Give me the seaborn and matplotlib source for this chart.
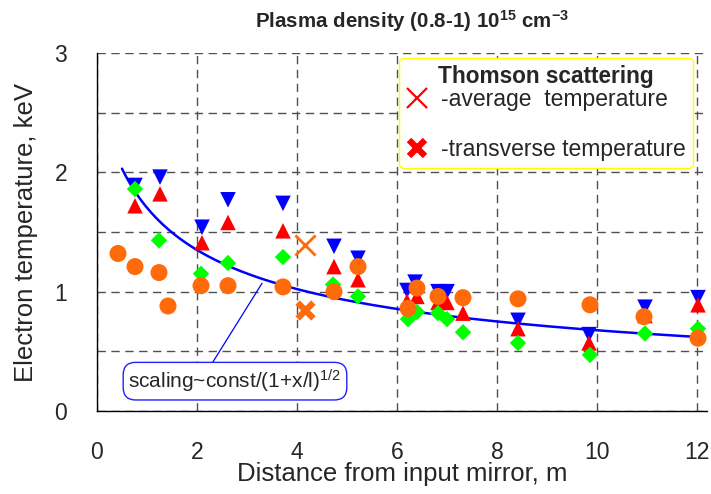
import numpy as np
import pandas as pd
import matplotlib
matplotlib.use("Agg")
import matplotlib.pyplot as plt
import seaborn as sns
from matplotlib.lines import Line2D
from matplotlib.ticker import MultipleLocator

# ---- data ----
blue_x = [0.76, 1.26, 2.10, 2.62, 3.72, 4.74, 5.22, 6.20, 6.36, 6.82, 7.00, 8.42, 9.84, 10.96, 12.02]
blue_y = [1.89, 1.96, 1.54, 1.77, 1.74, 1.38, 1.28, 1.01, 1.08, 1.00, 1.00, 0.76, 0.64, 0.87, 0.95]
red_x = [0.76, 1.26, 2.10, 2.62, 3.72, 4.74, 5.22, 6.20, 6.40, 6.82, 7.00, 7.32, 8.42, 9.84, 10.96, 12.02]
red_y = [1.72, 1.82, 1.41, 1.58, 1.51, 1.21, 1.10, 0.92, 0.96, 0.91, 0.91, 0.82, 0.69, 0.57, 0.80, 0.89]
green_x = [0.76, 1.24, 2.08, 2.62, 3.72, 4.72, 5.22, 6.22, 6.40, 6.82, 7.00, 7.32, 8.42, 9.86, 10.96, 12.02]
green_y = [1.86, 1.43, 1.15, 1.24, 1.29, 1.06, 0.96, 0.77, 0.83, 0.82, 0.77, 0.66, 0.57, 0.47, 0.65, 0.69]
orange_x = [0.42, 0.76, 1.24, 1.42, 2.08, 2.62, 3.72, 4.74, 5.22, 6.22, 6.40, 6.82, 7.32, 8.42, 9.86, 10.94, 12.02]
orange_y = [1.32, 1.21, 1.16, 0.88, 1.05, 1.05, 1.04, 1.00, 1.21, 0.86, 1.03, 0.96, 0.95, 0.94, 0.89, 0.79, 0.61]
avg_x = [4.16]
avg_y = [1.39]
trans_x = [4.16]
trans_y = [0.85]

# scaling law const/(1+x/l)^(1/2), as stated on the chart
scaling_const = 2.67
scaling_l = 0.686
curve_x = np.linspace(0.5, 12.0, 200)
curve_y = scaling_const / np.sqrt(1 + curve_x / scaling_l)

x_ticks = [0, 2, 4, 6, 8, 10, 12]
y_ticks = [0, 1, 2, 3]

# ---- style ----
sns.set_style("white")
plt.rcParams["font.family"] = ["Liberation Sans", "DejaVu Sans"]
plt.rcParams["mathtext.fontset"] = "custom"
plt.rcParams["mathtext.rm"] = "Liberation Sans"
plt.rcParams["mathtext.it"] = "Liberation Sans:italic"
plt.rcParams["mathtext.bf"] = "Liberation Sans:bold"

fig = plt.figure(figsize=(7.11, 4.94), dpi=100)
ax = fig.add_axes([97 / 711, 1 - 411 / 494, 610 / 711, 358 / 494])

BLUE = "#0000ff"
RED = "#ff0000"
GREEN = "#00ff00"
ORANGE = "#ff6a0a"

sns.lineplot(x=curve_x, y=curve_y, ax=ax, color=BLUE, linewidth=1.8, zorder=3)

sns.scatterplot(x=blue_x, y=blue_y, ax=ax, marker="v", s=125, color=BLUE,
                edgecolor="none", zorder=4)
sns.scatterplot(x=red_x, y=red_y, ax=ax, marker="^", s=125, color=RED,
                edgecolor="none", zorder=5)
sns.scatterplot(x=green_x, y=green_y, ax=ax, marker="D", s=70, color=GREEN,
                edgecolor="none", zorder=6)
sns.scatterplot(x=orange_x, y=orange_y, ax=ax, marker="o", s=150, color=ORANGE,
                edgecolor="none", zorder=7)
sns.scatterplot(x=avg_x, y=avg_y, ax=ax, marker="x", s=210, color=ORANGE,
                linewidth=2.0, zorder=8)
sns.scatterplot(x=trans_x, y=trans_y, ax=ax, marker="x", s=130, color=ORANGE,
                linewidth=4.5, zorder=8)

ax.set_xlim(0, 12.2)
ax.set_ylim(0, 3)
ax.set_xticks(x_ticks)
ax.set_yticks(y_ticks)
ax.xaxis.set_minor_locator(MultipleLocator(1))
ax.yaxis.set_minor_locator(MultipleLocator(0.5))

for s in ["top", "right"]:
    ax.spines[s].set_visible(False)
for s in ["left", "bottom"]:
    ax.spines[s].set_color("black")
    ax.spines[s].set_linewidth(1.0)

ax.tick_params(axis="x", which="major", direction="inout", length=15, width=1,
               color="black", labelsize=16.5, pad=14)
ax.tick_params(axis="x", which="minor", direction="out", length=7, width=1, color="black")
ax.tick_params(axis="y", which="major", direction="inout", length=17, width=1,
               color="black", labelsize=16.5, pad=13)
ax.tick_params(axis="y", which="minor", direction="inout", length=13, width=1, color="black")

grid_kw = dict(color="#505050", linewidth=1.0, linestyle=(0, (6, 4)))
ax.xaxis.grid(True, which="major", **grid_kw)
ax.yaxis.grid(True, which="major", **grid_kw)
ax.yaxis.grid(True, which="minor", **grid_kw)
ax.set_axisbelow(True)

ax.set_xlabel("Distance from input mirror, m", fontsize=18.5, labelpad=-1)
ax.set_ylabel("Electron temperature, keV", fontsize=18.5, labelpad=12)

fig.text(412 / 711, 1 - 28 / 494,
         r"Plasma density (0.8-1) 10$^{\mathbf{15}}$ cm$^{\mathbf{-3}}$",
         ha="center", va="baseline", fontsize=14.8, fontweight="bold")

# legend for Thomson scattering
handles = [
    Line2D([], [], marker="x", linestyle="none", color=RED, markersize=14, markeredgewidth=1.6),
    Line2D([], [], marker="x", linestyle="none", color=RED, markersize=11, markeredgewidth=4.5),
]
leg = ax.legend(handles, ["-average  temperature", "-transverse temperature"],
                title="Thomson scattering", loc="upper right",
                bbox_to_anchor=(0.977, 0.987), fontsize=16.5,
                title_fontproperties={"weight": "bold", "size": 16.3},
                frameon=True, fancybox=True, labelspacing=1.2,
                handletextpad=0.55, handlelength=1.0, borderpad=0.3,
                borderaxespad=0.0)
leg._legend_box.sep = 0
frame = leg.get_frame()
frame.set_edgecolor("#ffff00")
frame.set_linewidth(1.0)
frame.set_facecolor("white")
frame.set_alpha(1.0)
leg.set_zorder(10)

# annotation box
ax.annotate(r"scaling~const/(1+x/l)$^{1/2}$", xy=(3.3, 1.07), xytext=(2.76, 0.25),
            fontsize=15, ha="center", va="center",
            bbox=dict(boxstyle="round,pad=0.25,rounding_size=0.6", fc="white",
                      ec="#2020ff", lw=1.0),
            arrowprops=dict(arrowstyle="-", color=BLUE, lw=0.9,
                            relpos=(0.38, 1.0), shrinkA=0, shrinkB=0),
            zorder=9)

fig.savefig("out.png", dpi=100)
